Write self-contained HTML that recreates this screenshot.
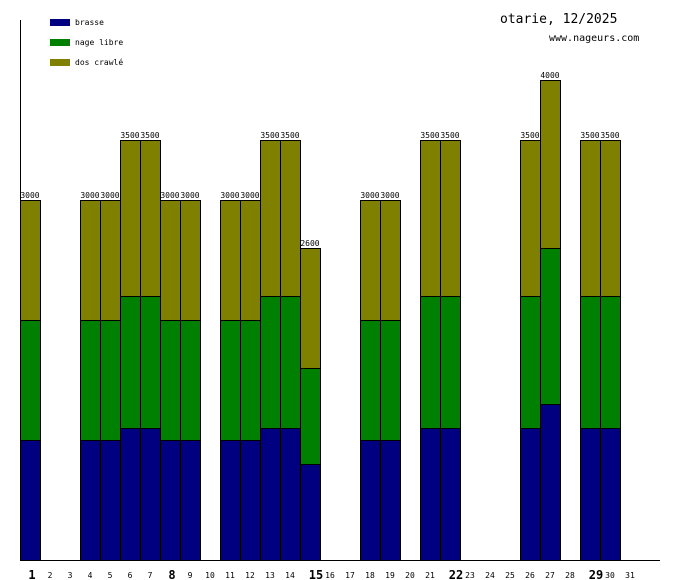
<!DOCTYPE html>
<html><head><style>body{margin:0;background:#fff}svg{display:block}text{font-family:"DejaVu Sans Mono","Liberation Mono",monospace}</style></head>
<body>
<svg width="680" height="580" xmlns="http://www.w3.org/2000/svg">
<defs>
<g id="A" stroke="#000" stroke-width="1"><rect x="0.5" y="440.5" width="20" height="120" fill="#000080"/><rect x="0.5" y="320.5" width="20" height="120" fill="#008000"/><rect x="0.5" y="200.5" width="20" height="120" fill="#808000"/></g>
<g id="B" stroke="#000" stroke-width="1"><rect x="0.5" y="428.5" width="20" height="132" fill="#000080"/><rect x="0.5" y="296.5" width="20" height="132" fill="#008000"/><rect x="0.5" y="140.5" width="20" height="156" fill="#808000"/></g>
<g id="C" stroke="#000" stroke-width="1"><rect x="0.5" y="464.5" width="20" height="96" fill="#000080"/><rect x="0.5" y="368.5" width="20" height="96" fill="#008000"/><rect x="0.5" y="248.5" width="20" height="120" fill="#808000"/></g>
<g id="D" stroke="#000" stroke-width="1"><rect x="0.5" y="404.5" width="20" height="156" fill="#000080"/><rect x="0.5" y="248.5" width="20" height="156" fill="#008000"/><rect x="0.5" y="80.5" width="20" height="168" fill="#808000"/></g>
</defs>
<use href="#A" x="20"/><use href="#A" x="80"/><use href="#A" x="100"/><use href="#B" x="120"/><use href="#B" x="140"/><use href="#A" x="160"/><use href="#A" x="180"/>
<use href="#A" x="220"/><use href="#A" x="240"/><use href="#B" x="260"/><use href="#B" x="280"/><use href="#C" x="300"/>
<use href="#A" x="360"/><use href="#A" x="380"/><use href="#B" x="420"/><use href="#B" x="440"/>
<use href="#B" x="520"/><use href="#D" x="540"/><use href="#B" x="580"/><use href="#B" x="600"/>
<line x1="20.5" y1="20" x2="20.5" y2="561" stroke="#000"/>
<line x1="20" y1="560.5" x2="660" y2="560.5" stroke="#000"/>
<g font-size="8" text-anchor="middle" fill="#000">
<text x="30" y="198">3000</text><text x="90" y="198">3000</text><text x="110" y="198">3000</text><text x="130" y="138">3500</text><text x="150" y="138">3500</text><text x="170" y="198">3000</text><text x="190" y="198">3000</text>
<text x="230" y="198">3000</text><text x="250" y="198">3000</text><text x="270" y="138">3500</text><text x="290" y="138">3500</text><text x="310" y="246">2600</text>
<text x="370" y="198">3000</text><text x="390" y="198">3000</text><text x="430" y="138">3500</text><text x="450" y="138">3500</text>
<text x="530" y="138">3500</text><text x="550" y="78">4000</text><text x="590" y="138">3500</text><text x="610" y="138">3500</text>
</g>
<g font-size="8" text-anchor="middle">
<text x="50" y="578">2</text><text x="70" y="578">3</text><text x="90" y="578">4</text><text x="110" y="578">5</text><text x="130" y="578">6</text><text x="150" y="578">7</text><text x="190" y="578">9</text><text x="210" y="578">10</text><text x="230" y="578">11</text><text x="250" y="578">12</text><text x="270" y="578">13</text><text x="290" y="578">14</text><text x="330" y="578">16</text><text x="350" y="578">17</text><text x="370" y="578">18</text><text x="390" y="578">19</text><text x="410" y="578">20</text><text x="430" y="578">21</text><text x="470" y="578">23</text><text x="490" y="578">24</text><text x="510" y="578">25</text><text x="530" y="578">26</text><text x="550" y="578">27</text><text x="570" y="578">28</text><text x="610" y="578">30</text><text x="630" y="578">31</text>
</g>
<g font-size="12" font-weight="bold" text-anchor="middle">
<text x="32" y="579">1</text><text x="172" y="579">8</text><text x="316" y="579">15</text><text x="456" y="579">22</text><text x="596" y="579">29</text>
</g>
<rect x="50" y="19" width="20" height="7" fill="#000080"/><rect x="50" y="39" width="20" height="7" fill="#008000"/><rect x="50" y="59" width="20" height="7" fill="#808000"/>
<g font-size="8"><text x="75" y="25">brasse</text><text x="75" y="45">nage libre</text><text x="75" y="65">dos crawlé</text></g>
<text x="500" y="23" font-size="13">otarie, 12/2025</text>
<text x="549" y="41" font-size="10">www.nageurs.com</text>
</svg>
</body></html>
